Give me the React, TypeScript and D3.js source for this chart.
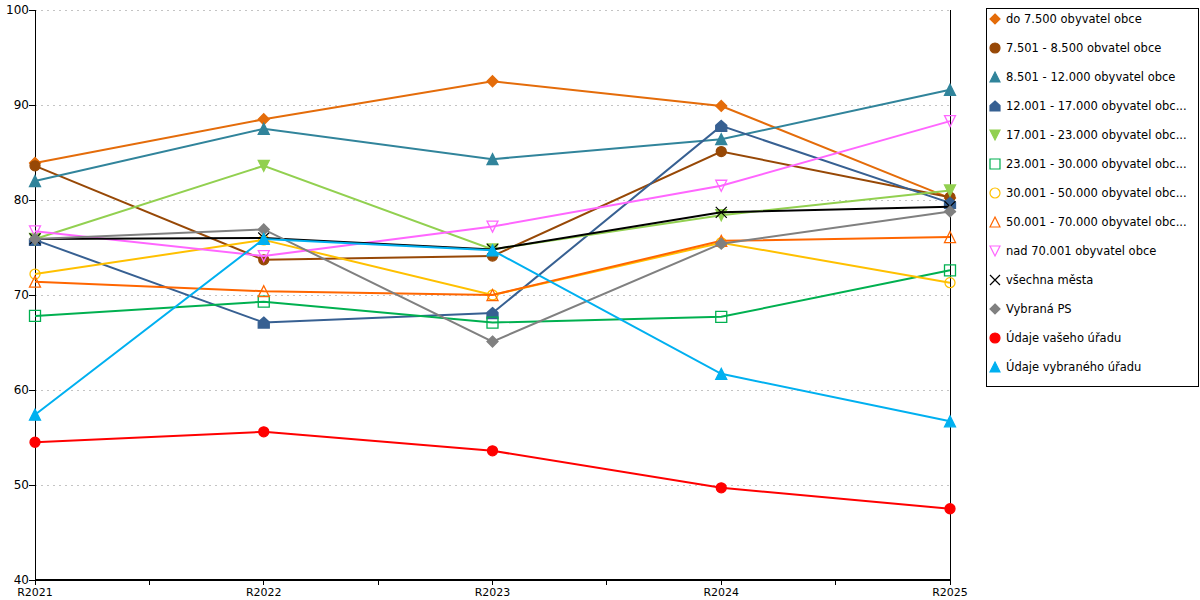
import React from "react";
import * as d3 from "d3";

const categories = ["R2021", "R2022", "R2023", "R2024", "R2025"];
const yTicks = [40, 50, 60, 70, 80, 90, 100];

const seriesNames = [
  "do 7.500 obyvatel obce",
  "7.501 - 8.500 obvatel obce",
  "8.501 - 12.000 obyvatel obce",
  "12.001 - 17.000 obyvatel obc...",
  "17.001 - 23.000 obyvatel obc...",
  "23.001 - 30.000 obyvatel obc...",
  "30.001 - 50.000 obyvatel obc...",
  "50.001 - 70.000 obyvatel obc...",
  "nad 70.001 obyvatel obce",
  "všechna města",
  "Vybraná PS",
  "Údaje vašeho úřadu",
  "Údaje vybraného úřadu",
];

const do7500 = [83.9, 88.5, 92.5, 89.9, 80.2];
const s7501 = [83.6, 73.7, 74.1, 85.1, 80.3];
const s8501 = [82.0, 87.5, 84.3, 86.4, 91.6];
const s12001 = [75.8, 67.1, 68.1, 87.8, 79.7];
const s17001 = [75.9, 83.6, 74.8, 78.4, 81.0];
const s23001 = [67.8, 69.3, 67.1, 67.7, 72.6];
const s30001 = [72.2, 75.8, 70.0, 75.5, 71.3];
const s50001 = [71.4, 70.4, 70.0, 75.7, 76.1];
const nad70001 = [76.7, 74.1, 77.2, 81.5, 88.3];
const vsechnaMesta = [75.9, 76.0, 74.8, 78.7, 79.3];
const vybranaPS = [75.9, 76.9, 65.1, 75.4, 78.8];
const vasehoUradu = [54.5, 55.6, 53.6, 49.7, 47.5];
const vybranehoUradu = [57.4, 75.9, 74.7, 61.7, 56.7];

const seriesValues = [
  do7500, s7501, s8501, s12001, s17001, s23001, s30001, s50001,
  nad70001, vsechnaMesta, vybranaPS, vasehoUradu, vybranehoUradu,
];

const colors = [
  "#e46c0a", "#974806", "#31849b", "#376092", "#92d050", "#00b050",
  "#ffc000", "#ff6600", "#ff66ff", "#000000", "#808080", "#ff0000", "#00b0f0",
];

type Shape = "diamond" | "circle" | "triangle" | "house" | "down" | "square" | "x";
const shapes: Shape[] = [
  "diamond", "circle", "triangle", "house", "down", "square", "circle",
  "triangle", "down", "x", "diamond", "circle", "triangle",
];
const filled = [true, true, true, true, true, false, false, false, false, false, true, true, true];

function markerPath(shape: Shape, r: number): string {
  switch (shape) {
    case "diamond":
      return `M0,${-r}L${r},0L0,${r}L${-r},0Z`;
    case "circle":
      return `M${r},0A${r},${r} 0 1,1 ${-r},0A${r},${r} 0 1,1 ${r},0Z`;
    case "triangle":
      return `M0,${-r}L${r},${r}L${-r},${r}Z`;
    case "down":
      return `M0,${r}L${r},${-r}L${-r},${-r}Z`;
    case "house":
      return `M0,${-r}L${r},${-r * 0.1}L${r},${r}L${-r},${r}L${-r},${-r * 0.1}Z`;
    case "square":
      return `M${-r},${-r}L${r},${-r}L${r},${r}L${-r},${r}Z`;
    case "x":
      return `M${-r},${-r}L${r},${r}M${r},${-r}L${-r},${r}`;
  }
}

export default function App() {
  const W = 1200;
  const H = 600;
  const x0 = 35;
  const x1 = 950;
  const yTop = 10;
  const yBot = 580;

  const x = d3.scalePoint<string>().domain(categories).range([x0, x1]);
  const y = d3.scaleLinear().domain([40, 100]).range([yBot, yTop]);
  const line = d3
    .line<number>()
    .x((_, i) => x(categories[i]) as number)
    .y((d) => y(d));

  const step = x.step();
  const xTickPos: number[] = [];
  categories.forEach((c, i) => {
    const p = x(c) as number;
    xTickPos.push(p);
    if (i < categories.length - 1) xTickPos.push(p + step / 2);
  });

  const font = "'DejaVu Sans', Verdana, sans-serif";

  return (
    <svg
      width={W}
      height={H}
      style={{ position: "absolute", left: 0, top: 0, background: "#fff" }}
    >
      <rect x={0} y={0} width={W} height={H} fill="#fff" />
      {/* grid */}
      {yTicks
        .filter((t) => t > 40)
        .map((t) => (
          <line
            key={"g" + t}
            x1={x0}
            x2={x1}
            y1={y(t)}
            y2={y(t)}
            stroke="#c4c4c4"
            strokeWidth={1}
            strokeDasharray="2,4"
            shapeRendering="crispEdges"
          />
        ))}
      {/* y axis */}
      <line x1={x0} x2={x0} y1={yTop} y2={yBot} stroke="#000" shapeRendering="crispEdges" />
      <line x1={x1} x2={x1} y1={yTop} y2={yBot} stroke="#000" shapeRendering="crispEdges" />
      {yTicks.map((t) => (
        <g key={"yt" + t}>
          <line x1={x0 - 6} x2={x0} y1={y(t)} y2={y(t)} stroke="#000" shapeRendering="crispEdges" />
          <text
            x={x0 - 6}
            y={y(t)}
            textAnchor="end"
            dominantBaseline="central"
            fontFamily={font}
            fontSize={12}
            fill="#000"
          >
            {t}
          </text>
        </g>
      ))}
      {/* x axis */}
      <line x1={x0} x2={x1} y1={yBot} y2={yBot} stroke="#000" strokeWidth={1.5} shapeRendering="crispEdges" />
      {xTickPos.map((p, i) => (
        <line key={"xt" + i} x1={p} x2={p} y1={yBot} y2={yBot + 5} stroke="#000" shapeRendering="crispEdges" />
      ))}
      {categories.map((c) => (
        <text
          key={"xl" + c}
          x={x(c) as number}
          y={yBot + 16}
          textAnchor="middle"
          fontFamily={font}
          fontSize={11}
          fill="#000"
        >
          {c}
        </text>
      ))}
      {/* series */}
      {seriesValues.map((vals, si) => (
        <g key={"s" + si}>
          <path d={line(vals) || ""} fill="none" stroke={colors[si]} strokeWidth={2} />
          {vals.map((v, i) => (
            <path
              key={i}
              transform={`translate(${x(categories[i])},${y(v)})`}
              d={markerPath(shapes[si], shapes[si] === "circle" ? 5 : 5.5)}
              fill={filled[si] ? colors[si] : "#fff"}
              stroke={colors[si]}
              strokeWidth={shapes[si] === "x" ? 1.2 : 1.3}
              fillOpacity={filled[si] ? 1 : 0}
            />
          ))}
        </g>
      ))}
      {/* legend */}
      <rect x={986.5} y={8.5} width={212} height={378} fill="#fff" stroke="#000" strokeWidth={1} />
      {seriesNames.map((n, i) => {
        const ly = 19 + i * 29;
        return (
          <g key={"l" + i}>
            <path
              transform={`translate(995,${ly})`}
              d={markerPath(shapes[i], 5)}
              fill={filled[i] ? colors[i] : "none"}
              stroke={colors[i]}
              strokeWidth={1.2}
            />
            <text x={1006} y={ly} dominantBaseline="central" fontFamily={font} fontSize={11.5} fill="#000">
              {n}
            </text>
          </g>
        );
      })}
    </svg>
  );
}
